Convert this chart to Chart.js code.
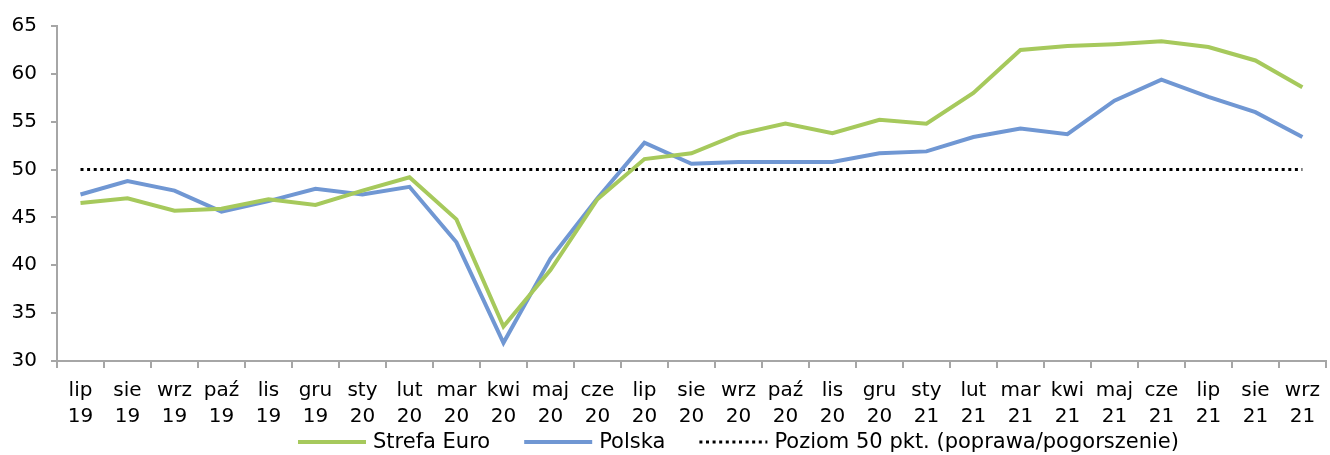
<!DOCTYPE html>
<html>
<head>
<meta charset="utf-8">
<script src="https://cdn.jsdelivr.net/npm/chart.js@4/dist/chart.umd.min.js"></script>
<style>
  html, body { margin: 0; padding: 0; background: #fff; }
  #wrap { width: 1330px; height: 455px; }
</style>
</head>
<body>
<div id="wrap"><canvas id="chart" width="1330" height="455"></canvas></div>
<script>
// categories (month, year)
const months = ['lip', 'sie', 'wrz', 'paź', 'lis', 'gru', 'sty', 'lut', 'mar', 'kwi', 'maj', 'cze',
                'lip', 'sie', 'wrz', 'paź', 'lis', 'gru', 'sty', 'lut', 'mar', 'kwi', 'maj', 'cze',
                'lip', 'sie', 'wrz'];
const years = ['19', '19', '19', '19', '19', '19', '20', '20', '20', '20', '20', '20',
               '20', '20', '20', '20', '20', '20', '21', '21', '21', '21', '21', '21',
               '21', '21', '21'];

// series values
const strefaEuro = [46.5, 47.0, 45.7, 45.9, 46.9, 46.3, 47.8, 49.2, 44.8, 33.6, 39.5, 46.9,
                    51.1, 51.7, 53.7, 54.8, 53.8, 55.2, 54.8, 58.0, 62.5, 62.9, 63.1, 63.4,
                    62.8, 61.4, 58.6];
const polska = [47.4, 48.8, 47.8, 45.6, 46.7, 48.0, 47.4, 48.2, 42.4, 31.9, 40.7, 47.0,
                52.8, 50.6, 50.8, 50.8, 50.8, 51.7, 51.9, 53.4, 54.3, 53.7, 57.2, 59.4,
                57.6, 56.0, 53.4];
const poziom = months.map(() => 50);

// y axis ticks
const yMin = 30;
const yMax = 65;
const yStep = 5;

const labels = months.map((m, i) => [m, years[i]]);
const fontFamily = '"DejaVu Sans", Verdana, sans-serif';
const font = { family: fontFamily, size: 20 };

// legend drawn under the x axis, one short line per dataset
const bottomLegend = {
    id: 'bottomLegend',
    afterDraw(chart) {
        const ctx = chart.ctx;
        const lineLen = 68, gap = 7, itemGap = 34;
        const y = 442;
        let x = 298;
        ctx.save();
        ctx.font = '21px ' + fontFamily;
        ctx.textBaseline = 'middle';
        chart.data.datasets.forEach(ds => {
            ctx.beginPath();
            ctx.strokeStyle = ds.borderColor;
            ctx.lineWidth = ds.borderWidth;
            ctx.setLineDash(ds.borderDash || []);
            ctx.moveTo(x, y);
            ctx.lineTo(x + lineLen, y);
            ctx.stroke();
            ctx.setLineDash([]);
            ctx.fillStyle = '#000';
            ctx.fillText(ds.label, x + lineLen + gap, y + 1);
            x += lineLen + gap + ctx.measureText(ds.label).width + itemGap;
        });
        ctx.restore();
    }
};

new Chart(document.getElementById('chart'), {
    type: 'line',
    data: {
        labels: labels,
        datasets: [{
            label: 'Strefa Euro',
            data: strefaEuro,
            borderColor: '#a6c95c',
            backgroundColor: '#a6c95c',
            borderWidth: 4,
            pointRadius: 0,
            tension: 0
        }, {
            label: 'Polska',
            data: polska,
            borderColor: '#7097d3',
            backgroundColor: '#7097d3',
            borderWidth: 4,
            pointRadius: 0,
            tension: 0
        }, {
            label: 'Poziom 50 pkt. (poprawa/pogorszenie)',
            data: poziom,
            borderColor: '#000000',
            backgroundColor: '#000000',
            borderWidth: 3,
            borderDash: [3, 3.6],
            pointRadius: 0
        }]
    },
    options: {
        responsive: false,
        animation: false,
        layout: { padding: { top: 25, right: 4, left: 0, bottom: 30 } },
        plugins: {
            tooltip: { enabled: false },
            legend: { display: false }
        },
        scales: {
            x: {
                offset: true,
                border: { color: '#a6a6a6', width: 2 },
                grid: { offset: true, drawOnChartArea: false, drawTicks: true, tickLength: 7, color: '#a6a6a6', lineWidth: 2 },
                ticks: { font: Object.assign({ lineHeight: 1.3 }, font), color: '#000', padding: 10, maxRotation: 0, autoSkip: false },
                afterFit: (scale) => { scale.height = 64; }
            },
            y: {
                min: yMin,
                max: yMax,
                border: { color: '#a6a6a6', width: 2 },
                grid: { drawOnChartArea: false, drawTicks: true, tickLength: 6, color: '#a6a6a6', lineWidth: 2 },
                ticks: { stepSize: yStep, font: font, color: '#000', padding: 14 },
                afterFit: (scale) => { scale.width = 57; }
            }
        }
    },
    plugins: [bottomLegend]
});
</script>
</body>
</html>
